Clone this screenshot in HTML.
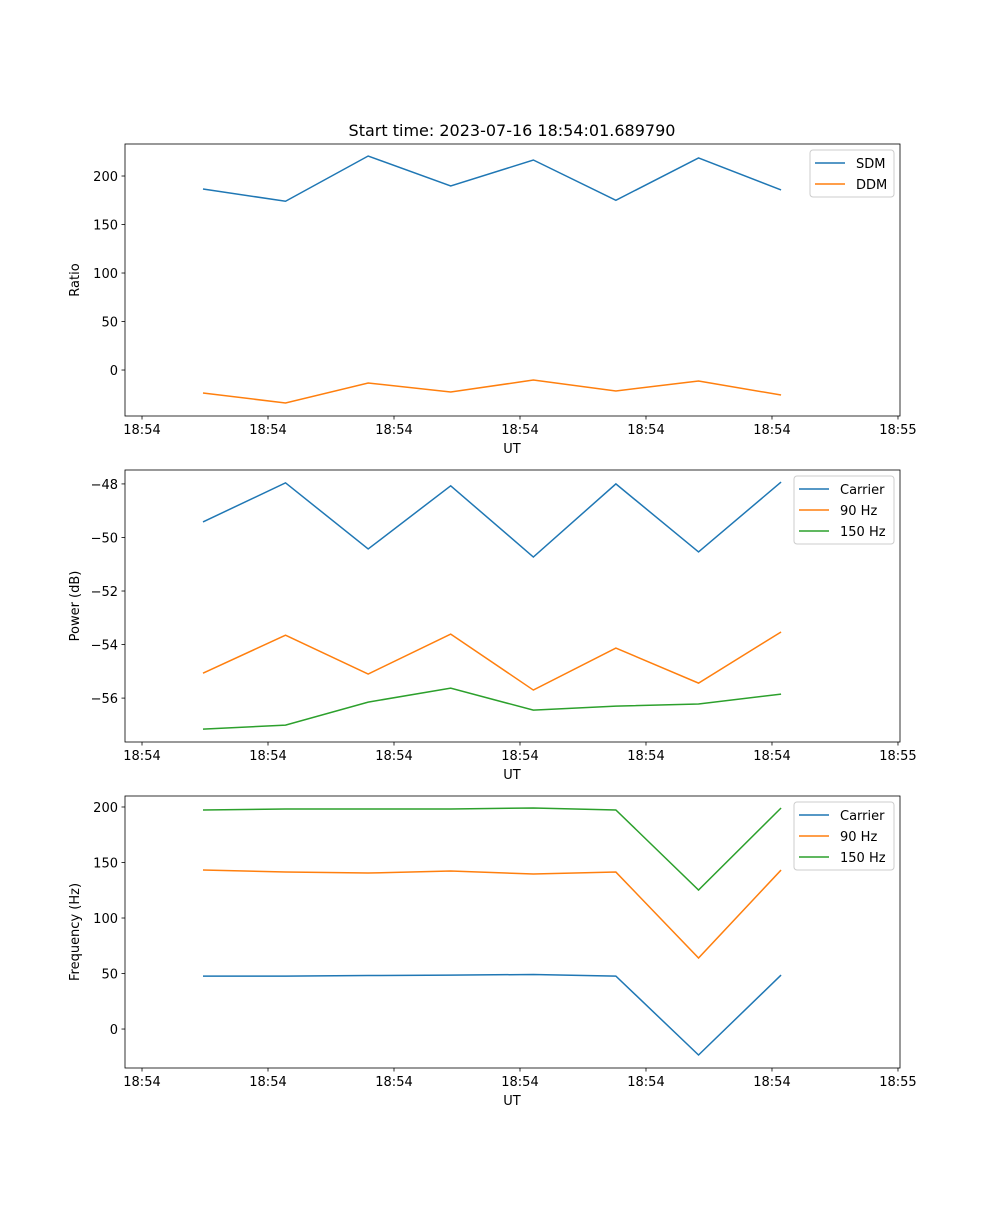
<!DOCTYPE html>
<html><head><meta charset="utf-8"><style>
body{margin:0;background:#fff}
svg text{font-family:"DejaVu Sans","Liberation Sans",sans-serif;fill:#000}
</style></head><body>
<svg id="chart" width="1000" height="1200" viewBox="0 0 1000 1200" xmlns="http://www.w3.org/2000/svg"></svg>
<script>
const times=[0.484,1.139,1.795,2.450,3.106,3.761,4.417,5.072];
const xTickVals=[0,1,2,3,4,5,6];
const xTickLabels=["18:54","18:54","18:54","18:54","18:54","18:54","18:55"];
const sdm=[186.6,174,220.6,189.7,216.5,175,218.6,185.6];
const ddm=[-23.7,-34,-13.4,-22.7,-10.3,-21.6,-11.3,-25.8];
const pCarrier=[-49.42,-47.96,-50.43,-48.07,-50.73,-48.0,-50.54,-47.93];
const p90=[-55.07,-53.65,-55.1,-53.61,-55.7,-54.13,-55.44,-53.53];
const p150=[-57.16,-57.01,-56.15,-55.63,-56.45,-56.3,-56.22,-55.85];
const fCarrier=[47.7,47.7,48.2,48.6,49.1,47.7,-23.4,48.6];
const f90=[143.2,141.4,140.5,142.3,139.6,141.4,64,143.2];
const f150=[197.3,198.2,198.2,198.2,199.1,197.3,125.2,199.1];
const yTicks1=[0,50,100,150,200];
const yTicks2=[-56,-54,-52,-50,-48];
const yTicks3=[0,50,100,150,200];

const svg=document.getElementById('chart');
const NS='http://www.w3.org/2000/svg';
function mk(tag,attrs,parent){const e=document.createElementNS(NS,tag);for(const k in attrs)e.setAttribute(k,attrs[k]);(parent||svg).appendChild(e);return e;}
const L=125,R=900,W=775,H=272;
const xd=[-0.135,6.016];
const xs=v=>L+(v-xd[0])/(xd[1]-xd[0])*W;
const C=['#1f77b4','#ff7f0e','#2ca02c'];
const FS=13;

function panel(name,top,yd,yticks,ylabel,series,names,legX){
  const g=mk('g',{});
  
  
  const ys=v=>top+H-(v-yd[0])/(yd[1]-yd[0])*H;
  series.forEach((s,i)=>{
    const p=mk('polyline',{points:s.map((v,j)=>xs(times[j])+','+ys(v)).join(' '),fill:'none',stroke:C[i],'stroke-width':1.5},g);
    
    
  });
  const fr=mk('rect',{x:L,y:top,width:W,height:H,fill:'none',stroke:'#000','stroke-width':0.8},g);
  
  
  xTickVals.forEach((v,i)=>{
    const x=xs(v);
    mk('line',{x1:x,x2:x,y1:top+H,y2:top+H+3.5,stroke:'#000','stroke-width':0.8},g);
    const t=mk('text',{x:x,y:top+H+18,'font-size':FS,'text-anchor':'middle'},g);
    t.textContent=xTickLabels[i];
    
    
  });
  yticks.forEach(v=>{
    const y=ys(v);
    mk('line',{x1:L,x2:L-3.5,y1:y,y2:y,stroke:'#000','stroke-width':0.8},g);
    const t=mk('text',{x:L-7,y:y+5,'font-size':FS,'text-anchor':'end'},g);
    t.textContent=(v<0?'\u2212'+(-v):v);
    
    
  });
  const xl=mk('text',{x:512,y:top+H+37,'font-size':FS,'text-anchor':'middle'},g);
  xl.textContent='UT';
  
  
  const yl=mk('text',{x:0,y:0,'font-size':FS,'text-anchor':'middle',transform:`translate(79,${top+H/2}) rotate(-90)`},g);
  yl.textContent=ylabel;
  
  
  const lg=mk('g',{},g);
  
  
  const lw=R-6-legX;
  mk('rect',{x:legX,y:top+6,width:lw,height:names.length*21+5,rx:3,fill:'#fff',stroke:'#ccc','stroke-width':1,'fill-opacity':0.8},lg);
  names.forEach((n,i)=>{
    const y=top+19+i*21;
    mk('line',{x1:legX+5,x2:legX+35,y1:y,y2:y,stroke:C[i],'stroke-width':1.5},lg);
    const t=mk('text',{x:legX+46,y:y+5,'font-size':FS},lg);
    t.textContent=n;
    
    
  });
}
const title=mk('text',{x:512,y:136,'font-size':16,'text-anchor':'middle'});
title.textContent='Start time: 2023-07-16 18:54:01.689790';


panel('ratio-panel',144,[-47.4,233],yTicks1,'Ratio',[sdm,ddm],['SDM','DDM'],810);
panel('power-panel',470,[-57.64,-47.48],yTicks2,'Power (dB)',[pCarrier,p90,p150],['Carrier','90 Hz','150 Hz'],794);
panel('frequency-panel',796,[-35.1,209.9],yTicks3,'Frequency (Hz)',[fCarrier,f90,f150],['Carrier','90 Hz','150 Hz'],794);
</script>
</body></html>
